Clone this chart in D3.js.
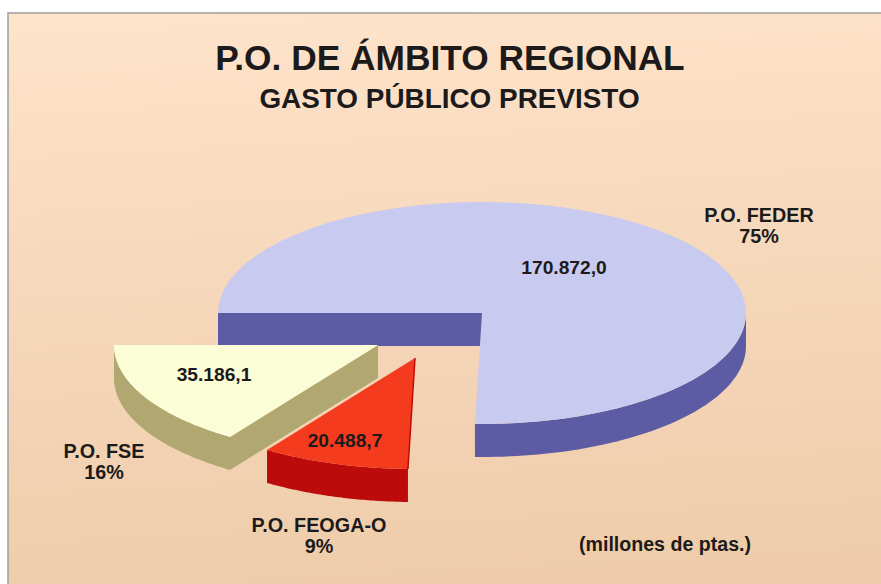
<!DOCTYPE html>
<html lang="es">
<head>
<meta charset="utf-8">
<script src="https://cdn.jsdelivr.net/npm/d3@7"></script>
<style>
html,body{margin:0;padding:0;background:#fff;overflow:hidden}
svg{display:block}
text{font-family:"Liberation Sans",Arial,sans-serif;font-weight:bold;fill:#1c1a1a;text-anchor:middle}
</style>
</head>
<body>
<svg id="c" width="881" height="584"></svg>
<script>
const categories = ["P.O. FEDER", "P.O. FEOGA-O", "P.O. FSE"];
const values = [170872.0, 20488.7, 35186.1];
const shares = ["75%", "9%", "16%"];
const topColors = ["#c9caef", "#f53b1d", "#fbfdd7"];
const wallColors = ["#5d5ba4", "#bd0a0a", "#b0a870"];
const centers = [[482, 313], [415, 358], [378, 345]];
const valuePos = [[564, 274], [345, 447], [214, 381]];
const labelPos = [[759, 222], [319, 532], [104, 458]];
const title = "P.O. DE ÁMBITO REGIONAL";
const subtitle = "GASTO PÚBLICO PREVISTO";
const note = "(millones de ptas.)";

const W = 881, H = 584, rx = 264, ry = 111, depth = 33;
const svg = d3.select("#c");

const defs = svg.append("defs");
const g = defs.append("linearGradient").attr("id", "bg")
  .attr("x1", 0).attr("y1", 0).attr("x2", 0.08).attr("y2", 1);
g.append("stop").attr("offset", 0).attr("stop-color", "#fee4cb");
g.append("stop").attr("offset", 0.45).attr("stop-color", "#f6d8bc");
g.append("stop").attr("offset", 1).attr("stop-color", "#eecca9");

svg.append("rect").attr("width", W).attr("height", H).attr("fill", "#fff");
svg.append("rect").attr("x", 8).attr("y", 13).attr("width", W + 20).attr("height", H + 20)
  .attr("fill", "url(#bg)").attr("stroke", "#a5a2a0").attr("stroke-width", 1.6);

svg.append("text").attr("x", 450).attr("y", 70).attr("font-size", 35.3).text(title);
svg.append("text").attr("x", 449.5).attr("y", 107.5).attr("font-size", 27.9).text(subtitle);
svg.append("text").attr("x", 665).attr("y", 551).attr("font-size", 19.6).text(note);

const pie = d3.pie().sort(null).startAngle(-Math.PI / 2).endAngle(1.5 * Math.PI);
const arcs = pie(values);
const fmt = d3.formatLocale({decimal: ",", thousands: ".", grouping: [3], currency: ["", ""]}).format(",.1f");
const line = d3.line();

// point on the tilted ellipse of a slice; angle is clockwise from the top
const pt = (c, a, dy = 0) => [c[0] + rx * Math.sin(a), c[1] - ry * Math.cos(a) + dy];
const sample = (c, a0, a1, dy = 0) => d3.range(0, 61).map(i => pt(c, a0 + (a1 - a0) * i / 60, dy));

const draw = i => {
  const a = arcs[i], c = centers[i], wall = wallColors[i];
  // rim: the part of the outer edge facing the viewer (angles PI/2 .. 3PI/2)
  const lo = Math.max(a.startAngle, Math.PI / 2), hi = Math.min(a.endAngle, 1.5 * Math.PI);
  const loB = i === 0 ? Math.PI / 2 : lo, hiB = i === 0 ? a.endAngle : hi;
  const rimTop = sample(c, loB, hiB), rimBottom = sample(c, loB, hiB, depth).reverse();
  svg.append("path").attr("d", line(rimTop.concat(rimBottom)) + "Z").attr("fill", wall);
  // flat cut walls
  if (i === 0 || i === 2) {
    const l = pt(c, a.startAngle);
    svg.append("path").attr("d", line([l, c, [c[0], c[1] + depth], [l[0], l[1] + depth]]) + "Z").attr("fill", wall);
  }
  // top surface
  const surface = [c].concat(sample(c, a.startAngle, a.endAngle));
  svg.append("path").attr("d", line(surface) + "Z").attr("fill", topColors[i]);
  if (i === 1) {
    svg.append("path").attr("d", line([c, pt(c, a.startAngle)]))
      .attr("stroke", wall).attr("stroke-width", 1.5).attr("fill", "none");
  }
};
[0, 2, 1].forEach(draw);

values.forEach((v, i) => {
  svg.append("text").attr("x", valuePos[i][0]).attr("y", valuePos[i][1]).attr("font-size", 19.2).text(fmt(v));
  const t = svg.append("text").attr("font-size", 19.8);
  t.append("tspan").attr("x", labelPos[i][0]).attr("y", labelPos[i][1]).text(categories[i]);
  t.append("tspan").attr("x", labelPos[i][0]).attr("y", labelPos[i][1] + 21).text(shares[i]);
});
</script>
</body>
</html>
